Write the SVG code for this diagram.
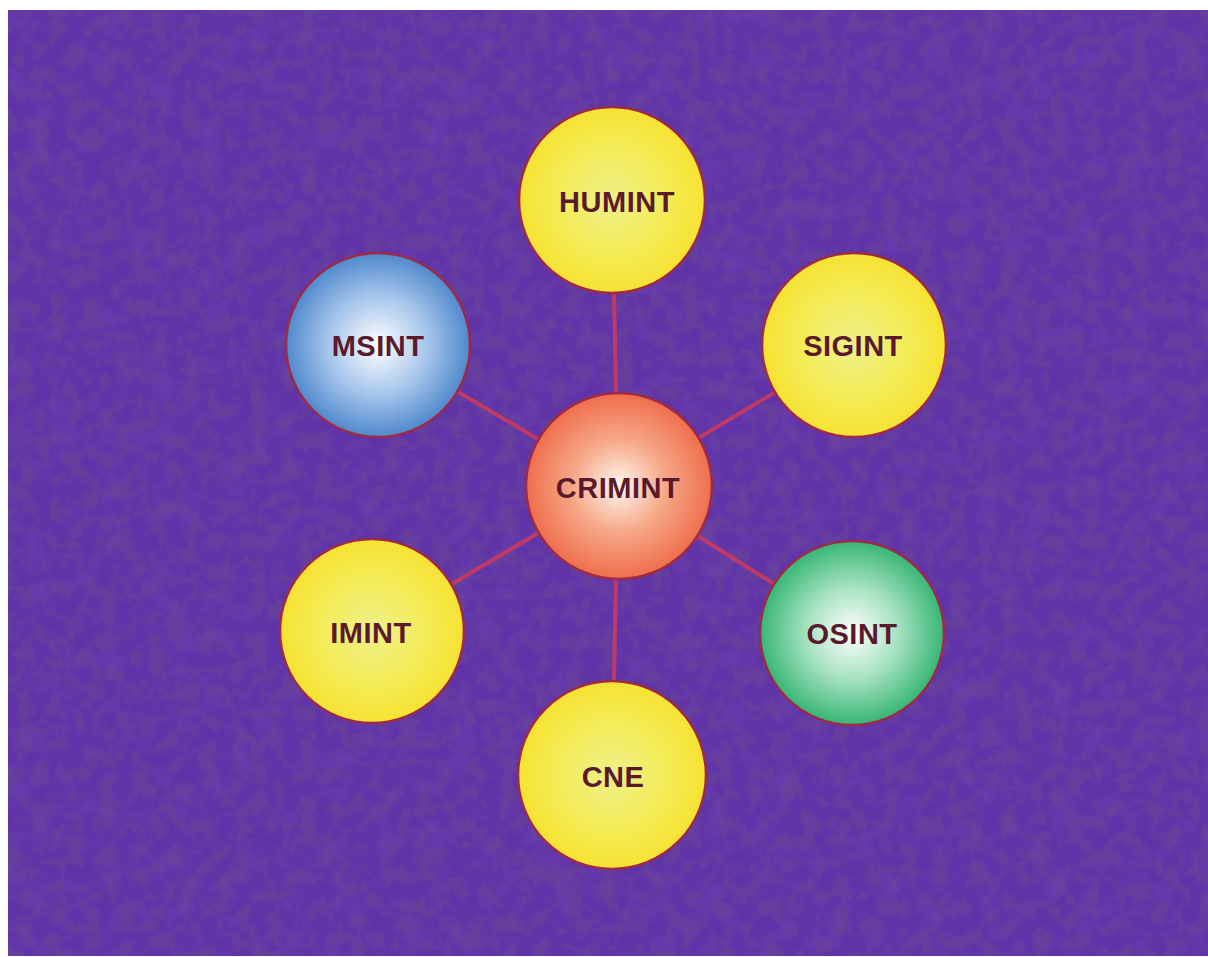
<svg xmlns="http://www.w3.org/2000/svg" width="1208" height="957" viewBox="0 0 1208 957">
<style>
.bg{fill:#6034a8}
.node circle{stroke:#9c2a48;stroke-width:2.5}
.node text{font-family:"Liberation Sans",Arial,sans-serif;font-weight:bold;font-size:29px;fill:#5a1a2c;text-anchor:middle;letter-spacing:0.5px}
.yellow{fill:url(#gY)}
#connectors line{stroke:#c03a68;stroke-width:4}
</style>
<defs>
<radialGradient id="gY" cx="50%" cy="50%" r="50%">
<stop offset="0" stop-color="#eef08a"/>
<stop offset="0.6" stop-color="#f4ec55"/>
<stop offset="1" stop-color="#f6e232"/>
</radialGradient>
<radialGradient id="gR" cx="50%" cy="50%" r="50%">
<stop offset="0" stop-color="#fff6ee"/>
<stop offset="0.5" stop-color="#f6a888"/>
<stop offset="1" stop-color="#ef6e4c"/>
</radialGradient>
<radialGradient id="gB" cx="50%" cy="50%" r="50%">
<stop offset="0" stop-color="#ffffff"/>
<stop offset="0.55" stop-color="#a4c4ea"/>
<stop offset="1" stop-color="#5089cc"/>
</radialGradient>
<radialGradient id="gG" cx="50%" cy="50%" r="50%">
<stop offset="0" stop-color="#ffffff"/>
<stop offset="0.5" stop-color="#a6e2c0"/>
<stop offset="1" stop-color="#38b676"/>
</radialGradient>
<filter id="noise" x="0" y="0" width="100%" height="100%">
<feTurbulence type="fractalNoise" baseFrequency="0.06" numOctaves="3" seed="4" result="t"/>
<feColorMatrix in="t" type="matrix" values="0 0 0 0 0.14  0 0 0 0 0.06  0 0 0 0 0.32  4 0 0 0 -1.7"/>
<feComposite in2="SourceGraphic" operator="in"/>
</filter>
<filter id="noise2" x="0" y="0" width="100%" height="100%">
<feTurbulence type="fractalNoise" baseFrequency="0.04" numOctaves="2" seed="11" result="t"/>
<feColorMatrix in="t" type="matrix" values="0 0 0 0 0.45  0 0 0 0 0.22  0 0 0 0 0.7  0 2.0 0 0 -1.0"/>
<feComposite in2="SourceGraphic" operator="in"/>
</filter>
</defs>
<rect x="0" y="0" width="1208" height="957" fill="#ffffff"/>
<rect class="bg" x="8" y="10" width="1200" height="946"/>
<rect x="8" y="10" width="1200" height="946" fill="#000" filter="url(#noise2)" opacity="0.15"/>
<rect x="8" y="10" width="1200" height="946" fill="#000" filter="url(#noise)" opacity="0.7"/>
<g id="connectors">
<line x1="618" y1="486" x2="612" y2="200"/>
<line x1="618" y1="486" x2="854" y2="345"/>
<line x1="618" y1="486" x2="852" y2="633"/>
<line x1="618" y1="486" x2="612" y2="775"/>
<line x1="618" y1="486" x2="372" y2="631"/>
<line x1="618" y1="486" x2="378" y2="345"/>
</g>
<g id="node-humint" class="node"><circle class="yellow" cx="612" cy="200" r="93"/><text x="617" y="212">HUMINT</text></g>
<g id="node-sigint" class="node"><circle class="yellow" cx="854" cy="345" r="92"/><text x="853" y="356">SIGINT</text></g>
<g id="node-msint" class="node"><circle fill="url(#gB)" cx="378" cy="345" r="92"/><text x="378" y="356">MSINT</text></g>
<g id="node-crimint" class="node"><circle fill="url(#gR)" cx="619" cy="486" r="93"/><text x="618" y="498">CRIMINT</text></g>
<g id="node-imint" class="node"><circle class="yellow" cx="372" cy="631" r="92"/><text x="371" y="643">IMINT</text></g>
<g id="node-osint" class="node"><circle fill="url(#gG)" cx="852" cy="633" r="92"/><text x="852" y="644">OSINT</text></g>
<g id="node-cne" class="node"><circle class="yellow" cx="612" cy="775" r="94"/><text x="613" y="787">CNE</text></g>
</svg>
